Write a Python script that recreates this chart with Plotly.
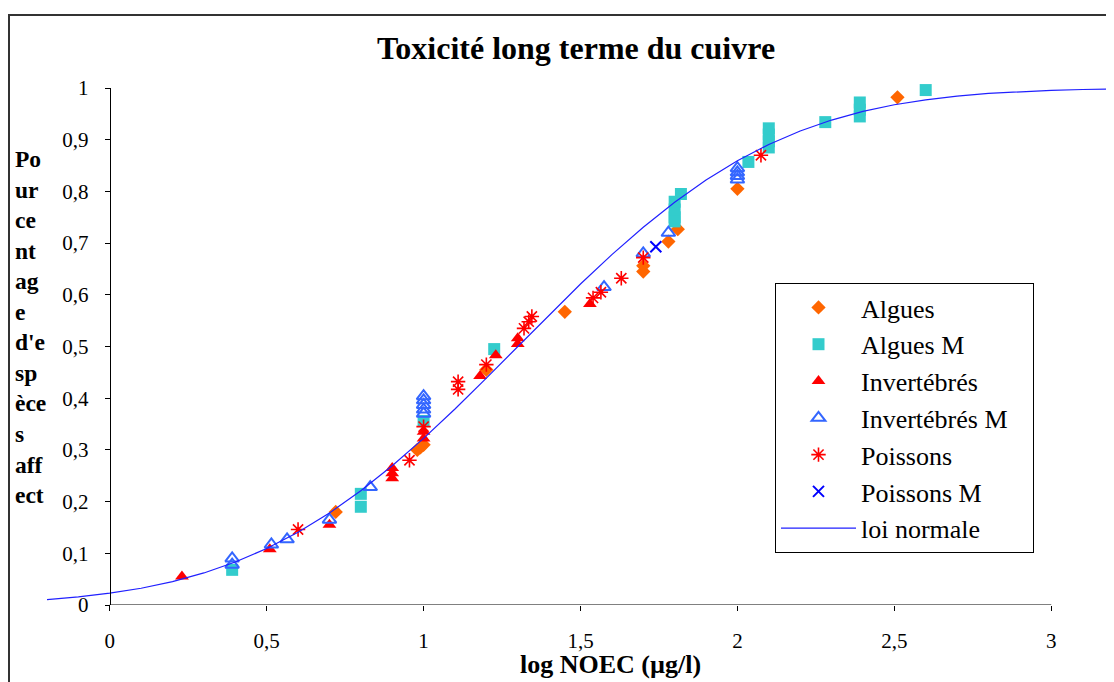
import plotly.graph_objects as go

# ---- data ----
algues_x = [0.72, 0.98, 0.99, 1.00, 1.20, 1.45, 1.70, 1.70, 1.78, 1.81, 2.00, 2.51]
algues_y = [0.18, 0.30, 0.305, 0.31, 0.455, 0.567, 0.645, 0.656, 0.703, 0.727, 0.805, 0.982]

alguesm_x = [0.39, 0.80, 0.80, 1.00, 1.225, 1.80, 1.80, 1.80, 1.80, 1.82, 2.035,
             2.10, 2.10, 2.10, 2.10, 2.28, 2.39, 2.39, 2.39, 2.60]
alguesm_y = [0.068, 0.19, 0.215, 0.356, 0.495, 0.742, 0.75, 0.765, 0.78, 0.795, 0.857,
             0.885, 0.897, 0.91, 0.922, 0.934, 0.945, 0.958, 0.972, 0.996]

invert_x = [0.23, 0.51, 0.70, 0.90, 0.90, 0.90, 1.00, 1.00, 1.18, 1.23, 1.30, 1.30, 1.53]
invert_y = [0.055, 0.108, 0.155, 0.245, 0.255, 0.265, 0.322, 0.335, 0.443, 0.483, 0.505, 0.516, 0.582]

invertm_x = [0.39, 0.39, 0.515, 0.565, 0.70, 0.83, 1.00, 1.00, 1.00, 1.00, 1.00,
             1.575, 1.70, 1.78, 2.00, 2.00, 2.00, 2.00]
invertm_y = [0.078, 0.09, 0.117, 0.127, 0.165, 0.228, 0.37, 0.378, 0.387, 0.396, 0.404,
             0.615, 0.68, 0.72, 0.823, 0.83, 0.837, 0.845]

poissons_x = [0.60, 0.955, 1.00, 1.11, 1.11, 1.20, 1.32, 1.335, 1.345, 1.54, 1.565, 1.63, 1.70, 2.075]
poissons_y = [0.146, 0.28, 0.345, 0.417, 0.432, 0.465, 0.535, 0.548, 0.558, 0.594, 0.605, 0.632, 0.672, 0.87]

poissonsm_x = [1.74]
poissonsm_y = [0.693]

loi_x = [-0.2, -0.1, 0.0, 0.1, 0.2, 0.3, 0.4, 0.5, 0.6, 0.7, 0.8, 0.9, 1.0, 1.1, 1.2, 1.3,
         1.4, 1.5, 1.6, 1.7, 1.8, 1.9, 2.0, 2.1, 2.2, 2.3, 2.4, 2.5, 2.6, 2.7, 2.8, 2.9,
         3.0, 3.1, 3.2]
loi_y = [0.0105, 0.0156, 0.0228, 0.0324, 0.0453, 0.062, 0.0831, 0.1092, 0.1407, 0.178,
         0.2209, 0.2692, 0.3222, 0.3792, 0.4389, 0.5, 0.5611, 0.6208, 0.6778, 0.7308,
         0.7791, 0.822, 0.8593, 0.8908, 0.9169, 0.938, 0.9547, 0.9676, 0.9772, 0.9844,
         0.9895, 0.9931, 0.9955, 0.9971, 0.9981]

x_ticks = [0, 0.5, 1, 1.5, 2, 2.5, 3]
x_ticktext = ["0", "0,5", "1", "1,5", "2", "2,5", "3"]
y_ticks = [0, 0.1, 0.2, 0.3, 0.4, 0.5, 0.6, 0.7, 0.8, 0.9, 1]
y_ticktext = ["0", "0,1", "0,2", "0,3", "0,4", "0,5", "0,6", "0,7", "0,8", "0,9", "1"]

title = "Toxicité long terme du cuivre"
x_title = "log NOEC (µg/l)"
y_title_lines = ["Po", "ur", "ce", "nt", "ag", "e", "d'e", "sp", "èce", "s", "aff", "ect"]

FONT = "Liberation Serif, Times New Roman, serif"
NB = "\u00a0"

fig = go.Figure()

def add(name, xs, ys, symbol, color, size, line=None):
    fig.add_trace(go.Scatter(
        x=xs, y=ys, mode="markers", name=name,
        cliponaxis=False,
        marker=dict(symbol=symbol, color=color, size=size,
                    line=line if line else dict(width=0)),
    ))

add("Algues", algues_x, algues_y, "diamond", "#FF6600", 11)
add("Algues M", alguesm_x, alguesm_y, "square", "#33CCCC", 12)
add("Invertébrés", invert_x, invert_y, "triangle-up", "#FF0000", 12)
add("Invertébrés M" + NB * 3, invertm_x, invertm_y, "triangle-up-open", "#3366FF", 12,
    line=dict(color="#3366FF", width=2))
add("Poissons", poissons_x, poissons_y, "asterisk-open", "#FF0000", 12,
    line=dict(color="#FF0000", width=1.6))
add("Poissons M", poissonsm_x, poissonsm_y, "x-thin-open", "#0000FF", 11,
    line=dict(color="#0000FF", width=2))

fig.add_trace(go.Scatter(
    x=loi_x, y=loi_y, mode="lines", name="loi normale",
    line=dict(color="#2020FF", width=1.2),
))

# page body has an 8px margin: work in reference pixels minus 8
OFF = 8
W, H = 1114 - OFF, 682 - OFF
L, R, T, B = 47 - OFF, 0, 88 - OFF, 77
PW, PH = W - L - R, H - T - B


def px(xp):
    return (xp - OFF - L) / PW


def py(yp):
    return (H - B - (yp - OFF)) / PH


xr = [-0.2, 3.2]
ypos = (0 - xr[0]) / (xr[1] - xr[0])

fig.update_layout(
    width=W, height=H,
    margin=dict(l=L, r=R, t=T, b=B),
    paper_bgcolor="white", plot_bgcolor="white",
    font=dict(family=FONT, color="black", size=21),
    title=dict(text="<b>" + title + "</b>", x=(576 - OFF) / W, xanchor="center",
               y=1 - (48 - OFF) / H, yanchor="middle", yref="container",
               font=dict(family=FONT, size=32, color="black")),
    showlegend=True,
    legend=dict(x=px(775), y=py(283),
                xanchor="left", yanchor="top",
                bordercolor="black", borderwidth=1, bgcolor="white",
                font=dict(family=FONT, size=26, color="black"),
                itemwidth=75, traceorder="normal"),
    xaxis=dict(range=xr, tickvals=x_ticks, ticktext=x_ticktext,
               showgrid=False, zeroline=False, showline=False,
               ticks="outside", ticklen=5, tickcolor="black",
               ticklabelstandoff=12,
               tickfont=dict(family=FONT, size=21, color="black")),
    yaxis=dict(range=[0, 1], tickvals=y_ticks, ticktext=y_ticktext,
               anchor="free", position=ypos,
               showgrid=False, zeroline=False, showline=True,
               linecolor="black", linewidth=1,
               ticks="outside", ticklen=5, tickcolor="black",
               ticklabelstandoff=12,
               tickfont=dict(family=FONT, size=21, color="black")),
    shapes=[
        dict(type="line", xref="x", yref="y", x0=0, x1=3, y0=0, y1=0,
             line=dict(color="black", width=1)),
        dict(type="rect", xref="paper", yref="paper",
             x0=(1 - L) / PW, x1=1.05,
             y0=-0.3, y1=py(15),
             line=dict(color="#333333", width=2), layer="below"),
    ],
    annotations=[
        dict(text="<b>" + x_title + "</b>", xref="paper", yref="paper",
             x=px(610), y=py(664),
             xanchor="center", yanchor="middle", showarrow=False,
             font=dict(family=FONT, size=26, color="black")),
        dict(text="<b>" + "<br>".join(y_title_lines) + "</b>", xref="paper", yref="paper",
             x=px(13), y=py(144),
             xanchor="left", yanchor="top", align="left", showarrow=False,
             font=dict(family=FONT, size=23.5, color="black")),
    ],
)

fig.write_html("out.html", config={"displayModeBar": False})
